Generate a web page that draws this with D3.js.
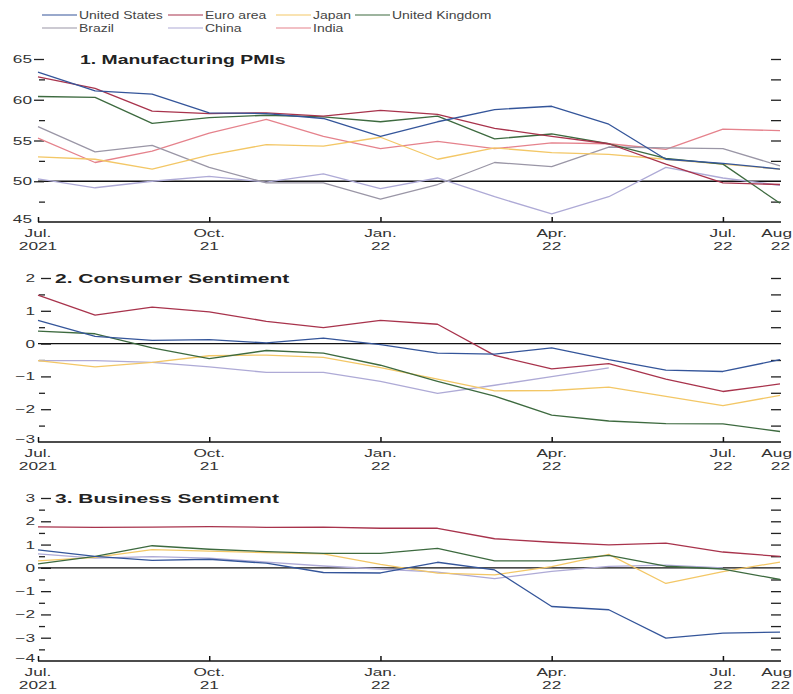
<!DOCTYPE html>
<html><head><meta charset="utf-8">
<script src="https://cdn.jsdelivr.net/npm/d3@7/dist/d3.min.js"></script>
<style>
html,body{margin:0;padding:0;background:#fff;}
svg{display:block;font-family:"Liberation Sans",Arial,sans-serif;}
</style></head>
<body>
<script>
// ---------- DATA ----------
const months = ["2021-07","2021-08","2021-09","2021-10","2021-11","2021-12","2022-01",
                "2022-02","2022-03","2022-04","2022-05","2022-06","2022-07","2022-08"];
const tickMarkMonths = ["2021-07","2021-10","2022-01","2022-04","2022-07"];
const tickLabelMonths = ["2021-07","2021-10","2022-01","2022-04","2022-07","2022-08"];
const tickLabels = [["Jul.","2021"],["Oct.","21"],["Jan.","22"],["Apr.","22"],["Jul.","22"],["Aug","22"]];

const seriesNames = ["United States","Euro area","Japan","United Kingdom","Brazil","China","India"];
const seriesColors = ["#34559a","#a8334c","#f3c766","#3d6a3f","#9a96a6","#aeaad6","#e5828c"];

// Panel 1: Manufacturing PMIs
const pmiUS     = [63.4,61.1,60.7,58.4,58.3,57.7,55.5,57.3,58.8,59.2,57.0,52.7,52.2,51.5];
const pmiEuro   = [62.8,61.4,58.6,58.3,58.4,58.0,58.7,58.2,56.5,55.5,54.6,52.1,49.8,49.6];
const pmiJapan  = [53.0,52.7,51.5,53.2,54.5,54.3,55.4,52.7,54.1,53.5,53.3,52.7,52.1,51.5];
const pmiUK     = [60.4,60.3,57.1,57.8,58.1,57.9,57.3,58.0,55.2,55.8,54.6,52.8,52.1,47.3];
const pmiBrazil = [56.7,53.6,54.4,51.7,49.8,49.8,47.8,49.6,52.3,51.8,54.2,54.1,54.0,51.9];
const pmiChina  = [50.3,49.2,50.0,50.6,49.9,50.9,49.1,50.4,48.1,46.0,48.1,51.7,50.4,49.5];
const pmiIndia  = [55.3,52.3,53.7,55.9,57.6,55.5,54.0,54.9,54.0,54.7,54.6,53.9,56.4,56.2];

// Panel 2: Consumer Sentiment
const csUS    = [0.71,0.22,0.10,0.12,0.02,0.17,-0.03,-0.29,-0.32,-0.13,-0.49,-0.81,-0.85,-0.49];
const csEuro  = [1.48,0.87,1.11,0.97,0.68,0.49,0.71,0.59,-0.36,-0.77,-0.61,-1.08,-1.46,-1.23];
const csJapan = [-0.52,-0.71,-0.57,-0.37,-0.35,-0.42,-0.73,-1.08,-1.44,-1.43,-1.33,-1.61,-1.89,-1.58];
const csUK    = [0.38,0.30,-0.13,-0.46,-0.21,-0.29,-0.66,-1.15,-1.60,-2.18,-2.36,-2.44,-2.45,-2.68];
const csChina = [-0.52,-0.52,-0.57,-0.71,-0.88,-0.88,-1.15,-1.52,-1.27,-1.01,-0.74,null,null,null];

// Panel 3: Business Sentiment
const bsUS    = [0.77,0.49,0.32,0.37,0.20,-0.20,-0.22,0.24,-0.09,-1.66,-1.80,-3.02,-2.80,-2.76];
const bsEuro  = [1.76,1.74,1.75,1.77,1.74,1.75,1.70,1.70,1.25,1.10,0.99,1.06,0.68,0.49];
const bsJapan = [0.30,0.45,0.78,0.72,0.65,0.60,0.15,-0.23,-0.30,0.05,0.58,-0.67,-0.16,0.25];
const bsUK    = [0.17,0.49,0.95,0.80,0.70,0.62,0.62,0.84,0.30,0.30,0.54,0.07,-0.05,-0.50];
const bsChina = [0.60,0.42,0.48,0.42,0.25,0.08,-0.05,-0.18,-0.46,-0.15,0.06,0.12,0.00,null];

const panels = [
  {title:"1. Manufacturing PMIs", domain:[45,65], labels:[65,60,55,50,45], step:5, rightStep:2.5, ref:50,
   series:{"United States":pmiUS,"Euro area":pmiEuro,"Japan":pmiJapan,"United Kingdom":pmiUK,
           "Brazil":pmiBrazil,"China":pmiChina,"India":pmiIndia}},
  {title:"2. Consumer Sentiment", domain:[-3,2], labels:[2,1,0,-1,-2,-3], step:1, rightStep:0.5, ref:0,
   series:{"United States":csUS,"Euro area":csEuro,"Japan":csJapan,"United Kingdom":csUK,"China":csChina}},
  {title:"3. Business Sentiment", domain:[-4,3], labels:[3,2,1,0,-1,-2,-3,-4], step:1, rightStep:0.5, ref:0,
   series:{"United States":bsUS,"Euro area":bsEuro,"Japan":bsJapan,"United Kingdom":bsUK,"China":bsChina}}
];

// ---------- LAYOUT ----------
const W = 793, H = 694;
const X0 = 38, X1 = 780, XR = 781;
const layout = [
  {top:59, bottom:222, titleX:80, labelX:32, majorA:34, majorB:44, titleSx:1.55},
  {top:278, bottom:442, titleX:55, labelX:35, majorA:41, majorB:51, titleSx:1.68},
  {top:498, bottom:661, titleX:55, labelX:35, majorA:41, majorB:51, titleSx:1.68}
];
const drawOrder = ["India","China","Brazil","Japan","United Kingdom","Euro area","United States"];

const svg = d3.select("body").append("svg").attr("width",W).attr("height",H);
svg.append("rect").attr("width",W).attr("height",H).attr("fill","#fff");

function txt(g, x, y, s, o){
  return g.append("text")
    .attr("transform",`translate(${x},${y}) scale(${o.sx||1},1)`)
    .attr("text-anchor",o.anchor||"start")
    .attr("font-size",o.size||11)
    .attr("font-weight",o.weight||"normal")
    .attr("fill",o.fill||"#333")
    .text(s);
}
const minus = v => v < 0 ? "\u2212" + Math.abs(v) : String(v);

const x = d3.scalePoint().domain(months).range([X0, X1]);
const color = d3.scaleOrdinal().domain(seriesNames).range(seriesColors);

// ---------- LEGEND ----------
const legCols = [42,168,276,355], legRows = [15,28];
const leg = svg.append("g");
seriesNames.forEach((n,i)=>{
  const cx = legCols[i%4], cy = legRows[Math.floor(i/4)];
  leg.append("line").attr("x1",cx).attr("x2",cx+35).attr("y1",cy).attr("y2",cy)
     .attr("stroke",color(n)).attr("stroke-width",1.2);
  txt(leg, cx+37, cy+4, n, {size:11, sx:1.27, fill:"#444"});
});

// ---------- PANELS ----------
panels.forEach((p,pi)=>{
  const L = layout[pi];
  const g = svg.append("g");
  const y = d3.scaleLinear().domain(p.domain).range([L.bottom, L.top]);

  // reference line
  g.append("line").attr("x1",X0).attr("x2",XR).attr("y1",y(p.ref)).attr("y2",y(p.ref))
   .attr("stroke","#111").attr("stroke-width",1.4);

  // left major ticks
  const majors = p.labels.filter(v => v !== p.domain[0]);
  g.append("g").attr("transform",`translate(${L.majorA},0)`)
   .call(d3.axisRight(y).tickValues(majors).tickSize(L.majorB-L.majorA).tickFormat(""))
   .call(a=>{a.select(".domain").remove(); a.selectAll("line").attr("stroke","#222").attr("stroke-width",1.3);});
  // left minor ticks
  const minors = d3.range(p.domain[0]+p.step/2, p.domain[1], p.step);
  g.append("g").attr("transform",`translate(39,0)`)
   .call(d3.axisRight(y).tickValues(minors).tickSize(6).tickFormat(""))
   .call(a=>{a.select(".domain").remove(); a.selectAll("line").attr("stroke","#222").attr("stroke-width",1.3);});
  // right ticks
  const rights = d3.range(p.domain[0]+p.rightStep, p.domain[1]+p.rightStep/2, p.rightStep).filter(v=>Math.abs(v-p.ref)>1e-9);
  g.append("g").attr("transform",`translate(${XR},0)`)
   .call(d3.axisLeft(y).tickValues(rights).tickSize(10).tickFormat(""))
   .call(a=>{a.select(".domain").remove(); a.selectAll("line").attr("stroke","#222").attr("stroke-width",1.3);});

  // y labels
  p.labels.forEach(v=>{
    const yy = v === p.domain[0] ? y(v) + 1 : y(v) + 4;
    txt(g, L.labelX, yy, minus(v), {size:11.5, sx:1.5, anchor:"end"});
  });

  // title
  txt(g, L.titleX, L.top + 5, p.title, {size:12.5, sx:L.titleSx, weight:"bold", fill:"#222"});

  // series
  const line = d3.line().defined(d=>d.v!=null).x(d=>x(d.m)).y(d=>y(d.v));
  drawOrder.filter(n=>p.series[n]).forEach(n=>{
    const vals = p.series[n];
    g.append("path").datum(months.map((m,i)=>({m, v: vals[i]})))
     .attr("d", line).attr("fill","none").attr("stroke",color(n))
     .attr("stroke-width",1.3).attr("stroke-linejoin","round");
  });

  // x axis
  g.append("line").attr("x1",X0).attr("x2",XR).attr("y1",L.bottom).attr("y2",L.bottom)
   .attr("stroke","#111").attr("stroke-width",1.5);
  g.append("g").attr("transform",`translate(0,${L.bottom})`)
   .call(d3.axisTop(x).tickValues(tickMarkMonths).tickSize(5).tickFormat(""))
   .call(a=>{a.select(".domain").remove(); a.selectAll("line").attr("stroke","#111").attr("stroke-width",1.5);});

  tickLabelMonths.forEach((m,i)=>{
    const last = i === tickLabelMonths.length - 1;
    const lx = last ? W - 1 : x(m);
    const anc = last ? "end" : "middle";
    txt(g, lx, L.bottom+15, tickLabels[i][0], {size:11.5, sx:1.5, anchor:anc});
    txt(g, last ? W - 3 : lx, L.bottom+28, tickLabels[i][1], {size:11.5, sx:1.5, anchor:anc});
  });
});
</script>
</body></html>
